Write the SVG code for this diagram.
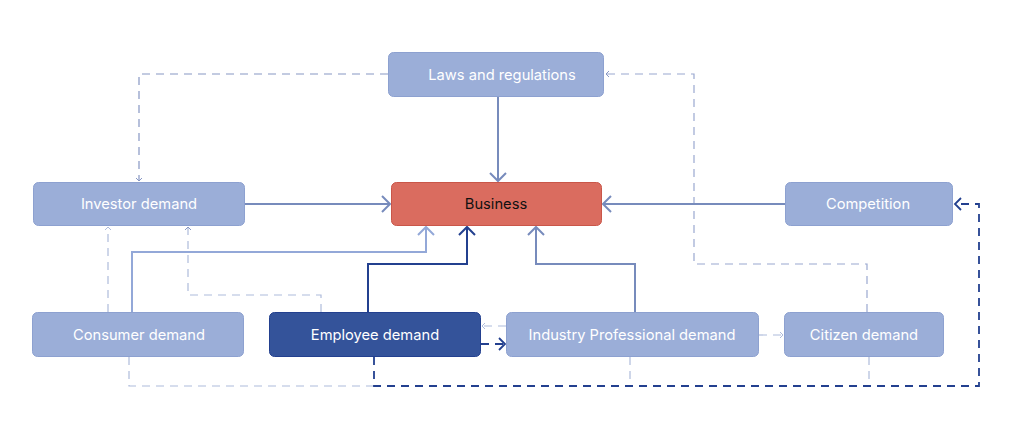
<svg xmlns="http://www.w3.org/2000/svg" width="1024" height="441" viewBox="0 0 1024 441">
<defs>
<style>
.node{fill:#9BAED8;stroke:#8DA1D0;stroke-width:1}
.lbl{font-family:Inter,"Liberation Sans",sans-serif;font-size:14.7px;fill:#ffffff;text-anchor:middle;dominant-baseline:central}
.main{fill:none;stroke:#778BBC;stroke-width:2}
.dsh{fill:none;stroke:#8797C4;stroke-width:1.2;stroke-dasharray:8 6}
.dshm{fill:none;stroke:#9AA8D0;stroke-width:1.2;stroke-dasharray:8 6}
.dshl{fill:none;stroke:#AEBBDB;stroke-width:1.2;stroke-dasharray:8 6}
.dshd{fill:none;stroke:#23408F;stroke-width:1.8;stroke-dasharray:8 6}
</style>
<marker id="bigA" markerUnits="userSpaceOnUse" markerWidth="20" markerHeight="20" viewBox="-10 -10 20 20" refX="0" refY="0" orient="auto">
<path d="M-8,-8 L0,0 L-8,8" fill="none" stroke="#778BBC" stroke-width="2"/>
</marker>
<marker id="bigL" markerUnits="userSpaceOnUse" markerWidth="20" markerHeight="20" viewBox="-10 -10 20 20" refX="0" refY="0" orient="auto">
<path d="M-8,-8 L0,0 L-8,8" fill="none" stroke="#93A8D8" stroke-width="2"/>
</marker>
<marker id="bigD" markerUnits="userSpaceOnUse" markerWidth="20" markerHeight="20" viewBox="-10 -10 20 20" refX="0" refY="0" orient="auto">
<path d="M-8,-8 L0,0 L-8,8" fill="none" stroke="#23408F" stroke-width="2"/>
</marker>
<marker id="midD" markerUnits="userSpaceOnUse" markerWidth="16" markerHeight="16" viewBox="-8 -8 16 16" refX="0" refY="0" orient="auto">
<path d="M-6,-6 L0,0 L-6,6" fill="none" stroke="#23408F" stroke-width="1.8"/>
</marker>
<marker id="sm" markerUnits="userSpaceOnUse" markerWidth="10" markerHeight="10" viewBox="-5 -5 10 10" refX="0" refY="0" orient="auto">
<path d="M-3,-3 L0,0 L-3,3" fill="none" stroke="#8797C4" stroke-width="1"/>
</marker>
<marker id="smL" markerUnits="userSpaceOnUse" markerWidth="10" markerHeight="10" viewBox="-5 -5 10 10" refX="0" refY="0" orient="auto">
<path d="M-3,-3 L0,0 L-3,3" fill="none" stroke="#AEBBDB" stroke-width="1"/>
</marker>
</defs>
<rect width="1024" height="441" fill="#ffffff"/>
<g id="connectors">
<path class="dsh" d="M388,74 H139 V181" marker-end="url(#sm)"/>
<path class="dshm" d="M867,312 V264 H694 V74 H606" marker-end="url(#sm)"/>
<path class="dshl" d="M108,312 V227" marker-end="url(#smL)"/>
<path class="dshl" d="M321,312 V295 H188 V227" marker-end="url(#sm)"/>
<path class="dshl" d="M506,326 H482" marker-end="url(#smL)"/>
<path class="dshl" d="M759,335 H783" marker-end="url(#smL)"/>
<path class="dshl" d="M129,357 V386 H374"/>
<path class="dshl" d="M630,357 V386"/>
<path class="dshl" d="M869,357 V386"/>
<path class="dshd" d="M374,357 V386 H979 V204 H955" marker-end="url(#midD)"/>
<path class="dshd" d="M481,344 H505" marker-end="url(#midD)"/>
<path class="main" d="M498,97 V181" marker-end="url(#bigA)"/>
<path class="main" d="M245,204 H390" marker-end="url(#bigA)"/>
<path class="main" d="M785,204 H603" marker-end="url(#bigA)"/>
<path class="main" d="M635,312 V264 H536 V227" marker-end="url(#bigA)"/>
<path fill="none" stroke="#93A8D8" stroke-width="2" d="M132,312 V252 H426 V227" marker-end="url(#bigL)"/>
<path fill="none" stroke="#23408F" stroke-width="2" d="M368,312 V264 H467 V227" marker-end="url(#bigD)"/>
</g>
<g id="laws"><rect class="node" x="388.5" y="52.5" width="215" height="44" rx="5"/><text class="lbl" x="502" y="75">Laws and regulations</text></g>
<g id="business"><rect x="391.5" y="182.5" width="210" height="43" rx="5" fill="#DA6C5F" stroke="#C95649"/><text class="lbl" x="496" y="204" style="fill:#111111">Business</text></g>
<g id="investor"><rect class="node" x="33.5" y="182.5" width="211" height="43" rx="5"/><text class="lbl" x="139" y="204">Investor demand</text></g>
<g id="competition"><rect class="node" x="785.5" y="182.5" width="167" height="43" rx="5"/><text class="lbl" x="868" y="204">Competition</text></g>
<g id="consumer"><rect class="node" x="32.5" y="312.5" width="211" height="44" rx="5"/><text class="lbl" x="139" y="335">Consumer demand</text></g>
<g id="employee"><rect x="269.5" y="312.5" width="211" height="44" rx="5" fill="#34539A" stroke="#23408F"/><text class="lbl" x="375" y="335">Employee demand</text></g>
<g id="industry"><rect class="node" x="506.5" y="312.5" width="252" height="44" rx="5"/><text class="lbl" x="632" y="335">Industry Professional demand</text></g>
<g id="citizen"><rect class="node" x="784.5" y="312.5" width="159" height="44" rx="5"/><text class="lbl" x="864" y="335">Citizen demand</text></g>
</svg>
